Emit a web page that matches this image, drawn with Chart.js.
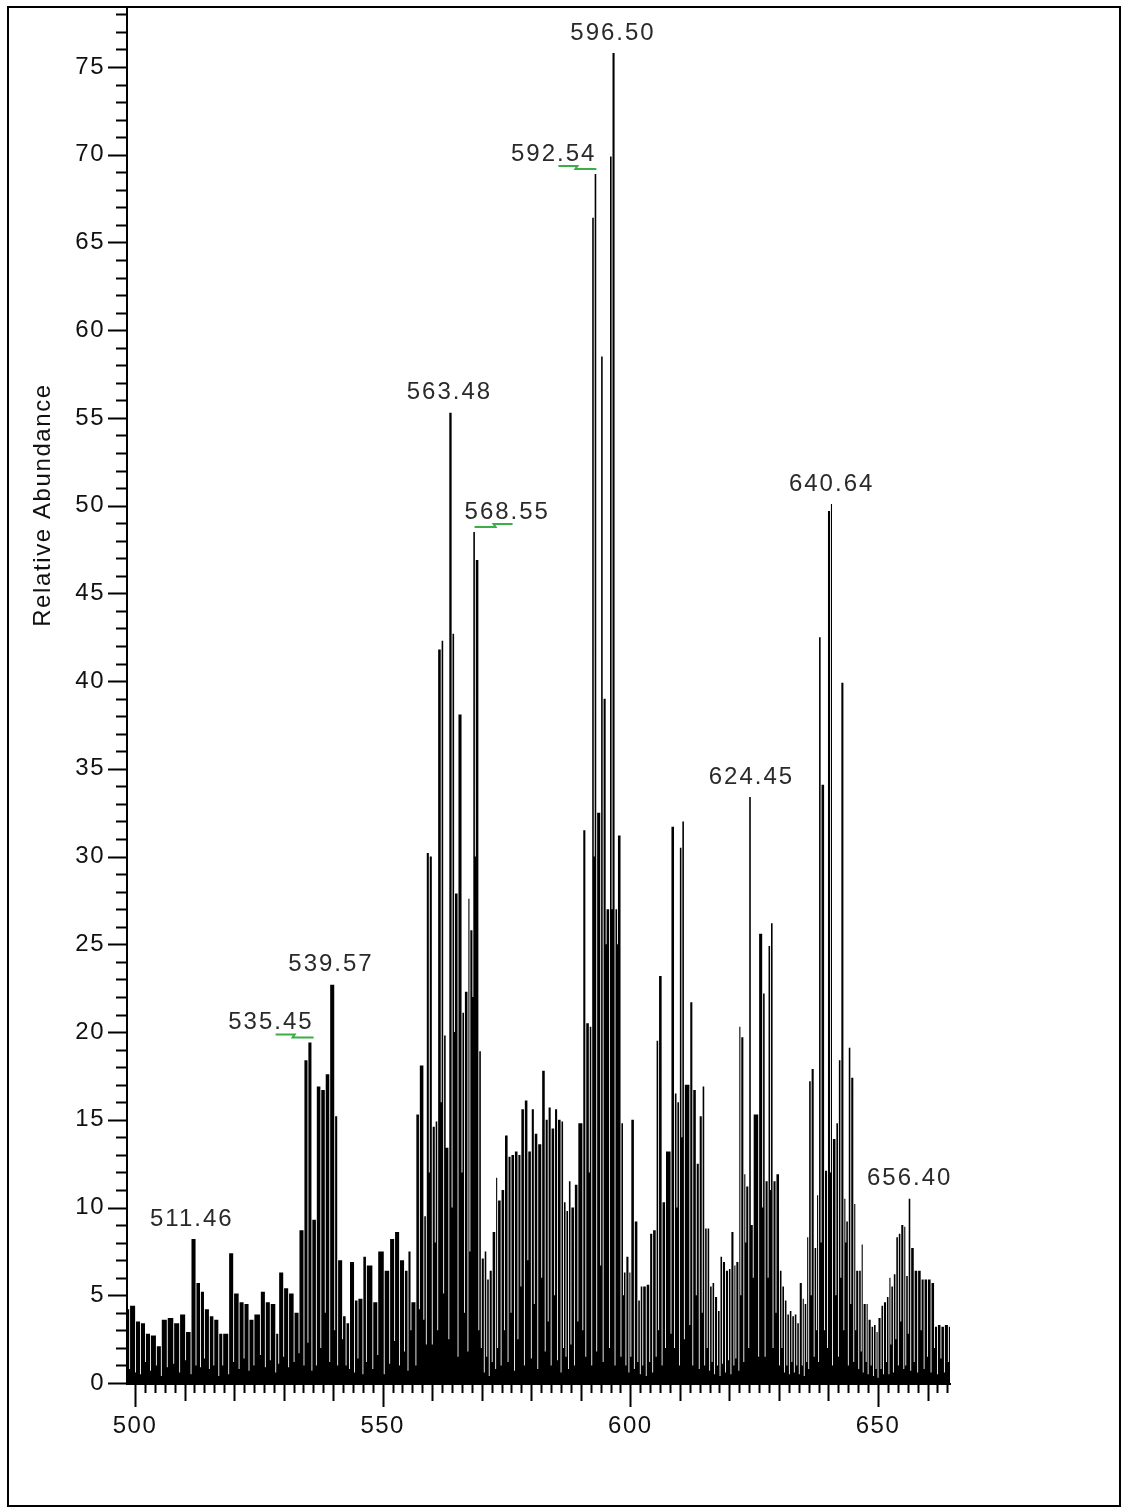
<!DOCTYPE html>
<html>
<head>
<meta charset="utf-8">
<script src="https://cdn.jsdelivr.net/npm/chart.js@4.4.1/dist/chart.umd.min.js"></script>
<style>
    html, body { margin: 0; padding: 0; background: #fff; }
    #wrap { position: relative; width: 1126px; height: 1512px; }
    #spectrum { position: absolute; left: 0; top: 0; }
    #frame {
        position: absolute; left: 7px; top: 6px; width: 1114px; height: 1501px;
        box-sizing: border-box; border: 2px solid #000; pointer-events: none;
    }
</style>
</head>
<body>
<div id="wrap">
    <canvas id="spectrum" width="1126" height="1512"></canvas>
    <div id="frame"></div>
</div>
<script>
// === Spectrum data ===
// m/z of each stick, its top, and how low the white gap right after it reaches
const stickMz = [
    498.4, 499.0, 500.2, 501.2, 502.2, 503.2, 504.4, 505.4, 506.6, 507.9,
    509.1, 510.3, 511.4, 512.4, 513.3, 514.1, 515.1, 516.0, 517.0, 517.8,
    519.0, 520.0, 521.1, 522.1, 523.1, 524.1, 525.4, 526.4, 527.4, 528.5,
    529.1, 530.1, 531.1, 532.2, 533.2, 534.2, 535.0, 535.8, 536.7, 537.6,
    538.5, 539.4, 540.4, 541.0, 542.0, 542.7, 543.4, 544.4, 545.1, 546.1,
    546.8, 548.1, 549.1, 550.4, 551.5, 552.5, 553.5, 554.5, 555.2, 555.8,
    556.8, 557.5, 558.4, 558.9, 559.5, 560.1, 560.7, 561.2, 561.9, 562.4,
    562.9, 563.45, 564.1, 564.6, 565.3, 566.1, 566.6, 567.3, 567.7, 568.3,
    568.8, 569.5, 570.0, 570.6, 571.1, 571.6, 572.2, 572.9, 573.3, 574.0,
    574.7, 575.4, 576.0, 576.7, 577.4, 578.0, 578.7, 579.4, 580.1, 580.7,
    581.4, 582.2, 582.9, 583.5, 584.1, 584.8, 585.4, 586.1, 586.6, 587.1,
    587.6, 588.1, 588.8, 589.5, 590.5, 591.1, 591.8, 592.3, 592.8, 593.3,
    594.1, 594.6, 595.2, 595.9, 596.4, 597.0, 597.5, 598.2, 598.7, 599.2,
    599.8, 600.2, 600.9, 601.6, 602.1, 602.6, 603.3, 604.0, 604.6, 605.3,
    605.8, 606.5, 607.2, 608.3, 609.0, 609.5, 610.0, 610.5, 611.0, 612.1,
    612.7, 613.4, 614.0, 614.6, 615.1, 615.6, 616.1, 616.6, 617.1, 617.7,
    618.2, 618.7, 619.3, 619.9, 620.4, 621.0, 621.4, 622.0, 622.4, 623.0,
    623.4, 624.0, 624.5, 624.9, 626.0, 626.8, 627.3, 627.9, 628.4, 628.9,
    629.5, 630.2, 630.7, 631.2, 631.7, 632.2, 632.7, 633.2, 633.7, 634.2,
    634.8, 635.2, 635.7, 636.1, 636.6, 637.2, 637.7, 638.1, 638.6, 639.3,
    639.9, 640.5, 640.9, 641.6, 642.1, 642.6, 643.2, 643.6, 644.1, 644.6,
    645.2, 645.6, 646.2, 646.7, 647.1, 647.7, 648.1, 648.7, 649.2, 649.7,
    650.1, 650.7, 651.2, 651.8, 652.3, 652.7, 653.2, 653.7, 654.2, 654.7,
    655.3, 655.7, 656.2, 656.7, 657.4, 658.1, 658.8, 659.4, 660.1, 660.8,
    661.5, 662.1, 662.8, 663.5, 664.3
];
const stickTop = [
    4.2, 4.4, 3.5, 3.4, 2.8, 2.7, 2.1, 3.6, 3.7, 3.4,
    3.9, 2.9, 8.2, 5.7, 5.2, 4.2, 3.8, 3.6, 2.8, 2.8,
    7.4, 5.1, 4.6, 4.5, 3.6, 3.9, 5.2, 4.6, 4.5, 2.8,
    6.3, 5.4, 5.1, 4.0, 8.7, 18.4, 19.4, 9.3, 16.9, 16.7,
    17.6, 22.7, 15.2, 7.0, 3.8, 3.4, 6.9, 4.7, 4.8, 7.2,
    6.7, 4.6, 7.5, 6.4, 8.2, 8.6, 7.0, 6.4, 7.5, 4.6,
    15.3, 18.1, 9.5, 30.2, 30.0, 14.6, 14.9, 41.8, 42.3, 19.8,
    13.4, 55.3, 42.7, 27.9, 38.1, 21.1, 22.3, 27.6, 25.8, 48.5,
    46.9, 18.9, 7.1, 7.5, 5.9, 6.4, 8.6, 11.7, 10.4, 11.0,
    14.1, 12.9, 13.0, 13.2, 13.0, 15.6, 16.1, 13.2, 15.6, 14.2,
    13.6, 17.8, 15.0, 15.7, 14.5, 15.6, 15.0, 14.9, 10.3, 9.8,
    11.5, 10.0, 11.3, 14.8, 31.5, 20.5, 20.3, 66.4, 68.9, 32.5,
    58.5, 39.0, 27.0, 69.9, 75.8, 27.0, 31.2, 14.8, 6.3, 7.2,
    6.3, 15.0, 9.2, 4.7, 5.5, 5.5, 5.6, 8.5, 8.7, 19.5,
    23.2, 10.3, 13.2, 31.7, 16.5, 16.0, 30.5, 32.0, 17.0, 21.7,
    16.7, 12.5, 15.2, 16.9, 8.8, 8.8, 5.5, 5.7, 4.9, 4.1,
    7.2, 6.9, 6.4, 6.5, 8.6, 6.7, 6.9, 20.3, 19.7, 11.9,
    11.2, 33.4, 9.0, 15.3, 25.6, 22.2, 11.5, 24.9, 26.2, 11.5,
    11.9, 6.4, 5.5, 4.7, 3.9, 4.1, 3.8, 3.9, 3.4, 5.7,
    4.8, 4.5, 8.3, 17.2, 17.9, 7.7, 10.7, 42.5, 34.1, 12.1,
    49.7, 50.1, 13.9, 14.8, 18.4, 39.9, 10.5, 9.2, 19.1, 17.4,
    10.2, 6.4, 6.4, 7.9, 4.5, 4.5, 3.6, 3.2, 3.3, 2.9,
    3.7, 4.4, 4.6, 4.9, 6.0, 5.5, 6.2, 8.3, 8.5, 9.0,
    8.9, 6.1, 10.5, 7.7, 6.4, 6.4, 5.9, 5.9, 5.9, 5.7,
    3.2, 3.3, 3.2, 3.3, 3.2
];
const gapFloor = [
    0.8, 0.6, 0.5, 1.2, 0.7, 1.0, 0.4, 0.9, 1.1, 0.6,
    1.3, 0.5, 1.0, 0.9, 1.4, 0.8, 1.0, 0.4, 1.0, 0.5,
    1.2, 0.8, 1.4, 0.7, 1.0, 1.6, 0.9, 1.3, 0.6, 1.1,
    1.5, 0.9, 1.2, 1.7, 1.0, 2.3, 0.7, 1.0, 2.0, 4.0,
    1.2, 3.0, 1.0, 2.5, 1.0, 0.8, 0.6, 1.4, 0.5, 1.2,
    0.8, 1.6, 0.5, 1.1, 2.4, 1.0, 1.8, 0.7, 3.0, 1.0,
    4.2, 3.6, 2.2, 12.0, 2.2, 8.0, 3.0, 16.0, 5.1, 13.4,
    2.5, 10.0, 20.0, 1.5, 12.0, 4.0, 1.8, 7.5, 22.0, 30.0,
    3.0, 2.0, 0.6, 1.5, 0.4, 1.2, 0.8, 2.0, 1.0, 3.0,
    1.2, 4.0, 0.7, 2.5, 5.5, 1.0, 7.0, 1.4, 4.5, 0.8,
    6.0, 1.8, 3.5, 1.0, 5.0, 1.3, 0.6, 2.0, 1.5, 0.8,
    2.2, 1.0, 3.5, 3.0, 1.5, 12.0, 1.0, 30.0, 1.8, 6.7,
    1.2, 25.0, 2.0, 27.0, 1.0, 25.0, 1.5, 5.0, 1.0, 0.6,
    1.5, 0.8, 1.2, 0.5, 1.0, 0.4, 1.2, 0.6, 1.5, 3.0,
    1.0, 2.0, 2.8, 2.0, 10.0, 1.0, 14.0, 2.5, 3.3, 1.0,
    5.0, 0.8, 4.0, 1.0, 2.0, 0.7, 1.2, 0.5, 1.0, 0.4,
    1.1, 0.6, 1.3, 0.5, 1.0, 1.4, 0.7, 5.0, 1.2, 8.0,
    2.0, 9.0, 6.0, 1.5, 10.0, 1.5, 6.0, 11.0, 2.0, 4.0,
    1.0, 2.0, 0.6, 1.0, 0.5, 1.2, 0.6, 1.0, 0.5, 1.0,
    0.4, 1.2, 0.8, 5.0, 1.5, 3.0, 1.2, 8.0, 3.0, 2.0,
    12.0, 1.0, 5.0, 1.5, 6.0, 3.0, 8.0, 1.0, 4.5, 1.2,
    3.0, 0.8, 1.8, 0.6, 1.2, 0.5, 1.0, 0.4, 0.8, 0.3,
    0.8, 0.5, 1.2, 0.5, 2.2, 0.6, 2.5, 1.0, 3.5, 0.8,
    1.0, 2.8, 0.7, 1.2, 0.6, 3.0, 0.8, 1.5, 0.6, 2.0,
    0.5, 1.4, 0.6, 1.2, 0.5
];

// annotated peaks
const labelMz    = [511.46, 535.45, 539.57, 563.48, 568.55, 592.54, 596.50, 624.45, 640.64, 656.40];
const labelTop   = [8.2, 19.4, 22.7, 55.3, 48.5, 68.9, 75.8, 33.4, 50.1, 10.5];
const labelAlign = ['center', 'right', 'center', 'center', 'left', 'right', 'center', 'center', 'center', 'center'];
const labelTagged = [false, true, false, false, true, true, false, false, false, false];

// axis ticks
const xLabelTicks = [500, 550, 600, 650];
const yLabelTicks = [0, 5, 10, 15, 20, 25, 30, 35, 40, 45, 50, 55, 60, 65, 70, 75];

const X_MIN = 498.38;
const X_MAX = 664.74;
const Y_MAX = 78.36;
const GAP = 0.18;           // width of the white line between sticks, in m/z
const FONT = '"Liberation Sans", Arial, sans-serif';
const TEXT_COLOR = '#111';

document.addEventListener("DOMContentLoaded", () => {
    // stepped profile: stick top, then a narrow dip just before the next stick
    const spectrumPoints = [];
    stickMz.forEach((mz, i) => {
        const next = i < stickMz.length - 1 ? stickMz[i + 1] : X_MAX;
        spectrumPoints.push({ x: mz, y: stickTop[i] });
        spectrumPoints.push({ x: next - GAP, y: gapFloor[i] });
    });

    const noPadding = (scale) => {
        scale.paddingTop = 0;
        scale.paddingBottom = 0;
        scale.paddingLeft = 0;
        scale.paddingRight = 0;
    };

    const decor = {
        id: 'decor',
        beforeDraw(chart) {
            chart.ctx.letterSpacing = '1.5px';
        },
        afterDraw(chart) {
            const { ctx, chartArea: ca, scales: { x, y } } = chart;
            ctx.save();
            ctx.strokeStyle = '#000';
            ctx.lineWidth = 2;

            // axis lines
            ctx.beginPath();
            ctx.moveTo(ca.left, 6);
            ctx.lineTo(ca.left, ca.bottom + 1);
            ctx.lineTo(ca.right, ca.bottom + 1);
            ctx.stroke();

            // y ticks: every 1, long every 5
            ctx.beginPath();
            for (let v = 0; v <= Y_MAX; v++) {
                const py = Math.round(y.getPixelForValue(v)) + 0.5;
                const len = v % 5 === 0 ? 19 : 11;
                ctx.moveTo(ca.left - len, py);
                ctx.lineTo(ca.left, py);
            }
            // x ticks: every 2, longer every 10 and 50
            for (let v = Math.ceil(X_MIN / 2) * 2; v <= X_MAX; v += 2) {
                const px = Math.round(x.getPixelForValue(v)) + 0.5;
                const len = v % 50 === 0 ? 24 : (v % 10 === 0 ? 18 : 10);
                ctx.moveTo(px, ca.bottom);
                ctx.lineTo(px, ca.bottom + len);
            }
            ctx.stroke();

            // y axis title
            ctx.fillStyle = TEXT_COLOR;
            ctx.font = '24px ' + FONT;
            ctx.letterSpacing = '1.6px';
            ctx.save();
            ctx.translate(43, 505);
            ctx.rotate(-Math.PI / 2);
            ctx.textAlign = 'center';
            ctx.textBaseline = 'middle';
            ctx.fillText('Relative Abundance', 0, 0);
            ctx.restore();

            // peak labels
            ctx.letterSpacing = '2px';
            ctx.textBaseline = 'middle';
            labelMz.forEach((mz, i) => {
                const px = x.getPixelForValue(mz);
                const py = y.getPixelForValue(labelTop[i]) - 20;
                let tx = px;
                if (labelAlign[i] === 'right') tx = px + 3;
                if (labelAlign[i] === 'left') tx = px - 10;
                ctx.textAlign = labelAlign[i];
                ctx.fillStyle = '#2a2a2a';
                ctx.fillText(mz.toFixed(2), tx, py);

                if (labelTagged[i]) {
                    const dir = labelAlign[i] === 'left' ? 1 : -1;
                    const x0 = px + (dir < 0 ? 3 : 0);
                    const x1 = x0 + dir * 38;
                    const xm = (x0 + x1) / 2;
                    ctx.strokeStyle = '#3cae46';
                    ctx.lineWidth = 2;
                    ctx.beginPath();
                    ctx.moveTo(x1, py + 12);
                    ctx.lineTo(xm, py + 12);
                    ctx.lineTo(xm + dir * 2, py + 15);
                    ctx.lineTo(x0, py + 15);
                    ctx.stroke();
                }
            });
            ctx.restore();
        }
    };

    new Chart(document.getElementById('spectrum'), {
        type: 'line',
        data: {
            datasets: [{
                label: 'Spectrum',
                data: spectrumPoints,
                stepped: true,
                fill: 'origin',
                backgroundColor: '#000',
                borderColor: '#000',
                borderWidth: 0,
                pointRadius: 0,
                tension: 0
            }]
        },
        options: {
            responsive: false,
            animation: false,
            events: [],
            layout: { padding: { top: 8, right: 175, left: 0, bottom: 0 } },
            plugins: {
                legend: { display: false },
                tooltip: { enabled: false }
            },
            scales: {
                x: {
                    type: 'linear',
                    min: X_MIN,
                    max: X_MAX,
                    grid: { display: false },
                    border: { display: false },
                    ticks: {
                        autoSkip: false,
                        maxRotation: 0,
                        padding: 21,
                        color: TEXT_COLOR,
                        font: { family: FONT, size: 24 }
                    },
                    afterBuildTicks: (scale) => {
                        scale.ticks = xLabelTicks.map(v => ({ value: v }));
                    },
                    afterFit: (scale) => {
                        scale.height = 129;
                        noPadding(scale);
                    }
                },
                y: {
                    type: 'linear',
                    min: 0,
                    max: Y_MAX,
                    grid: { display: false },
                    border: { display: false },
                    ticks: {
                        autoSkip: false,
                        padding: 14,
                        color: TEXT_COLOR,
                        font: { family: FONT, size: 24 }
                    },
                    afterBuildTicks: (scale) => {
                        scale.ticks = yLabelTicks.map(v => ({ value: v }));
                    },
                    afterFit: (scale) => {
                        scale.width = 127;
                        noPadding(scale);
                    }
                }
            }
        },
        plugins: [decor]
    });
});
</script>
</body>
</html>
